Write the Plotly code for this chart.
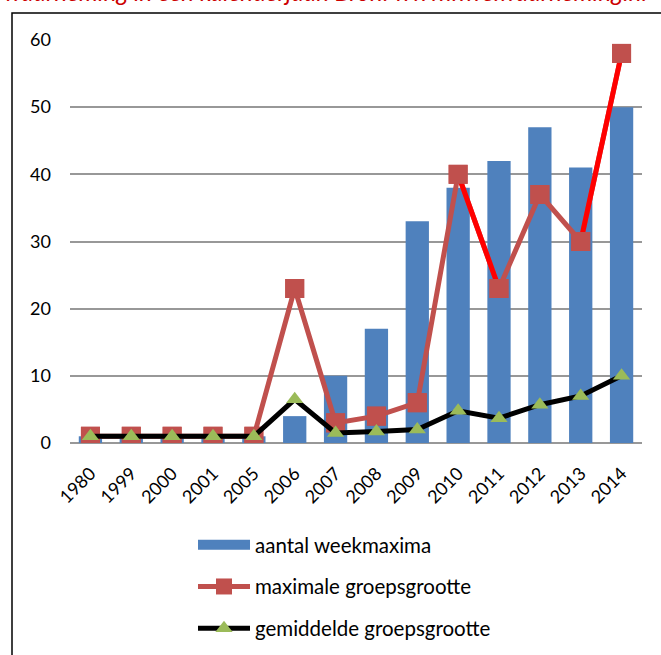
import plotly.graph_objects as go

years = ["1980", "1999", "2000", "2001", "2005", "2006", "2007", "2008",
         "2009", "2010", "2011", "2012", "2013", "2014"]
weekmaxima = [1, 1, 1, 1, 1, 4, 10, 17, 33, 38, 42, 47, 41, 50]
max_groep = [1, 1, 1, 1, 1, 23, 3, 4, 6, 40, 23, 37, 30, 58]
gem_groep = [1, 1, 1, 1, 1, 6.5, 1.5, 1.7, 2, 4.8, 3.7, 5.7, 7, 10]
# segments of the maximum line drawn in bright red
bright_segments = [("2010", "2011"), ("2013", "2014")]
y_ticks = [0, 10, 20, 30, 40, 50, 60]

FONT = "Lato, Calibri, Carlito, sans-serif"
BLUE = "#4F81BD"
RED = "#C0504D"
GREEN = "#9BBB59"

L, R, T, B = 70, 19, 40, 212
W, H = 661, 655
PW, PH = W - L - R, H - T - B

fig = go.Figure()
fig.add_trace(go.Bar(
    x=years, y=weekmaxima, name="aantal weekmaxima",
    marker=dict(color=BLUE, line=dict(width=0)),
    showlegend=False, width=0.57,
))
# legend entry for the bars (wide swatch)
fig.add_trace(go.Scatter(
    x=[None], y=[None], name="aantal weekmaxima", mode="lines",
    line=dict(color=BLUE, width=13), legendgroup="a",
))
fig.add_trace(go.Scatter(
    x=years, y=max_groep, name="maximale groepsgrootte",
    mode="lines+markers", line=dict(color=RED, width=5),
    marker=dict(symbol="square", size=19, color=RED),
    legendgroup="b",
))
for a, b in bright_segments:
    ia, ib = years.index(a), years.index(b)
    fig.add_trace(go.Scatter(
        x=[years[ia], years[ib]], y=[max_groep[ia], max_groep[ib]],
        mode="lines", line=dict(color="#FF0000", width=5),
        showlegend=False, hoverinfo="skip",
    ))
fig.add_trace(go.Scatter(
    x=years, y=max_groep, mode="markers",
    marker=dict(symbol="square", size=19, color=RED),
    showlegend=False, hoverinfo="skip",
))
fig.add_trace(go.Scatter(
    x=years, y=gem_groep, name="gemiddelde groepsgrootte",
    mode="lines+markers", line=dict(color="black", width=5),
    marker=dict(symbol="triangle-up", size=15, color=GREEN),
    legendgroup="c",
))

fig.update_layout(
    width=W, height=H,
    margin=dict(l=L, r=R, t=T, b=B, autoexpand=False),
    paper_bgcolor="white", plot_bgcolor="white",
    font=dict(family=FONT, size=18, color="black"),
    showlegend=True,
    legend=dict(
        x=(193 - L) / PW, y=-(525 - (T + PH)) / PH,
        xanchor="left", yanchor="top",
        orientation="v", tracegroupgap=12, itemwidth=52,
        font=dict(family=FONT, size=20.5, color="black"),
        bgcolor="rgba(0,0,0,0)",
    ),
    xaxis=dict(
        type="category", tickangle=-45, showgrid=False,
        range=[-0.5, len(years) - 0.5],
        showline=False, ticks="outside", ticklen=12,
        tickcolor="rgba(0,0,0,0)", tickfont=dict(size=18),
    ),
    yaxis=dict(
        range=[0, 60], tickvals=y_ticks, showgrid=True,
        gridcolor="#989898", gridwidth=1.5, zeroline=True,
        zerolinecolor="#989898", zerolinewidth=2,
        ticks="", tickfont=dict(size=18), ticklabelstandoff=18,
    ),
    shapes=[dict(
        type="rect", xref="paper", yref="paper",
        x0=(12 - L) / PW, x1=1.2, y0=-0.6, y1=(T + PH - 13) / PH,
        line=dict(color="black", width=1.5), layer="above",
    )],
    annotations=[dict(
        text="<i>waarneming in een kalenderjaar. Bron: www.nwe.waarneming.nl</i>",
        xref="paper", yref="paper", x=(2 - L) / PW, y=(T + PH - 7.5) / PH,
        xanchor="left", yanchor="bottom", showarrow=False,
        font=dict(family=FONT, size=24.3, color="#CC0000"),
    )],
)

fig.write_html(
    "out.html",
    config={"responsive": False, "displayModeBar": False},
    default_width="661px", default_height="655px",
    post_script="document.body.style.margin='0';document.body.style.overflow='hidden';",
)
